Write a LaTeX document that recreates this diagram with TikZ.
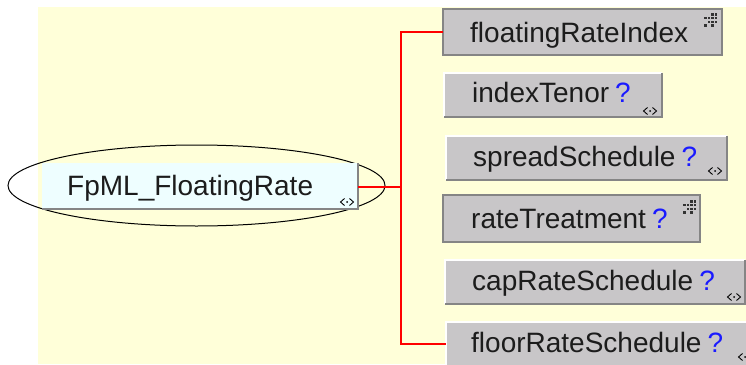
\documentclass[tikz,border=0pt]{standalone}
\usepackage{fontspec}
\setmainfont{Liberation Sans}
\usetikzlibrary{shapes.geometric}
\definecolor{bgyellow}{HTML}{FFFFD9}
\definecolor{boxgrey}{HTML}{C8C6C8}
\definecolor{edgegrey}{HTML}{858585}
\definecolor{rootfill}{HTML}{EEFEFF}
\definecolor{qblue}{HTML}{1A1AFF}
\definecolor{linkred}{HTML}{FF0000}
\definecolor{txt}{HTML}{1C1C1C}
\tikzset{
  elbox/.style={draw=none, fill=boxgrey, anchor=north west, inner sep=0pt, outer sep=0pt},
  lbl/.style={anchor=base west, inner sep=0pt, text=txt, font=\fontsize{28}{28}\selectfont},
  link/.style={draw=linkred, line width=1.6pt},
  chevicon/.pic={
    \draw[line width=0.9pt] (-2.5,-3.5) -- (-6.5,0) -- (-2.5,3.5);
    \draw[line width=0.9pt] (2.5,-3.5) -- (6.5,0) -- (2.5,3.5);
    \fill (0,0) circle (1pt);
  },
  gridicon/.pic={
    \foreach \r/\c in {0/2,0/3,1/0,1/1,1/2,1/3,2/1,2/2,2/3,3/0,3/2}
      \fill[black!80] (\c*3.6,\r*3.8) rectangle ++(2.6,2.6);
  },
}
\newcommand{\qm}{\hspace{6pt}\textcolor{qblue}{?}}
\begin{document}
\begin{tikzpicture}[x=1pt,y=-1pt]
\useasboundingbox (0,0) rectangle (746,364);
\clip (0,0) rectangle (746,364);
\fill[white] (0,0) rectangle (746,364);
\fill[bgyellow] (38,7) rectangle (746,364);

% root element
\node[ellipse, draw=black, line width=1pt, minimum width=377pt, minimum height=81pt, inner sep=0pt] (root) at (196.5,185.5) {};
\node[elbox, fill=rootfill, minimum width=316pt, minimum height=46pt] (rootbox) at (42,163) {};
\draw[edgegrey, line width=1.5pt] (rootbox.north east) -- (rootbox.south east) -- (rootbox.south west);
\node[lbl] (rootlbl) at (67,195) {FpML\_FloatingRate};
\pic at (347,202) {chevicon};

% child boxes
\node[elbox, minimum width=279pt, minimum height=46pt] (b1) at (443,9) {};
\node[elbox, minimum width=218pt, minimum height=44pt] (b2) at (444,73) {};
\node[elbox, minimum width=281pt, minimum height=44pt] (b3) at (446,136) {};
\node[elbox, minimum width=257pt, minimum height=47pt] (b4) at (443,195) {};
\node[elbox, minimum width=300pt, minimum height=44pt] (b5) at (445,260) {};
\node[elbox, minimum width=310pt, minimum height=44pt] (b6) at (446,322) {};

\foreach \b in {b1,b4}
  \draw[edgegrey, line width=2pt] (\b.north west) rectangle (\b.south east);
\foreach \b in {b2,b3,b5,b6}{
  \draw[white, line width=2pt] (\b.south west) -- (\b.north west) -- (\b.north east);
  \draw[edgegrey, line width=2pt] (\b.north east) -- (\b.south east) -- (\b.south west);
}

\node[lbl] (l1) at (470,42) {floatingRateIndex};
\node[lbl] (l2) at (472,102) {indexTenor\qm};
\node[lbl] (l3) at (473,166) {spreadSchedule\qm};
\node[lbl] (l4) at (471,228) {rateTreatment\qm};
\node[lbl] (l5) at (472,290) {capRateSchedule\qm};
\node[lbl] (l6) at (471,352) {floorRateSchedule\qm};

\pic at (704,13) {gridicon};
\pic at (683,200) {gridicon};
\pic at (650,111) {chevicon};
\pic at (715,171) {chevicon};
\pic at (734,297) {chevicon};
\pic at (745,357) {chevicon};

% connectors
\coordinate (j) at (401,187);
\draw[link] (rootbox.east |- 0,187) -- (j);
\draw[link] (j) |- (b1.west);
\draw[link] (j) |- (b6.west);
\end{tikzpicture}
\end{document}
